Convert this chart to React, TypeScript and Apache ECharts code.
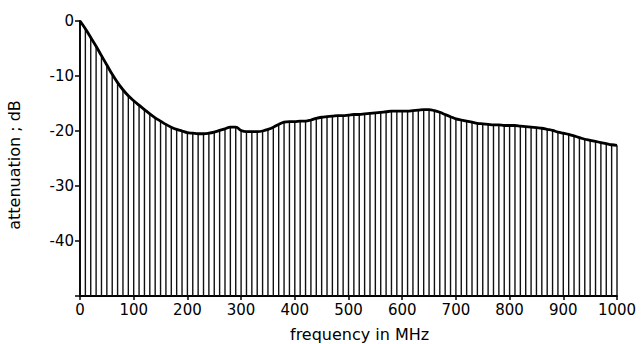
import React, { useEffect, useRef } from "react";
import * as echarts from "echarts";

const freqs: number[] = [
  0, 10, 20, 30, 40, 50, 60, 70, 80, 90,
  100, 110, 120, 130, 140, 150, 160, 170, 180, 190,
  200, 210, 220, 230, 240, 250, 260, 270, 280, 290,
  300, 310, 320, 330, 340, 350, 360, 370, 380, 390,
  400, 410, 420, 430, 440, 450, 460, 470, 480, 490,
  500, 510, 520, 530, 540, 550, 560, 570, 580, 590,
  600, 610, 620, 630, 640, 650, 660, 670, 680, 690,
  700, 710, 720, 730, 740, 750, 760, 770, 780, 790,
  800, 810, 820, 830, 840, 850, 860, 870, 880, 890,
  900, 910, 920, 930, 940, 950, 960, 970, 980, 990, 1000,
];

const attenuation: number[] = [
  0, -1.4, -3.0, -4.6, -6.3, -8.0, -9.7, -11.2, -12.5, -13.6,
  -14.5, -15.3, -16.1, -16.9, -17.6, -18.2, -18.8, -19.3, -19.7, -20.0,
  -20.3, -20.4, -20.5, -20.5, -20.4, -20.2, -19.9, -19.6, -19.3, -19.3,
  -19.9, -20.1, -20.1, -20.1, -20.0, -19.7, -19.3, -18.8, -18.4, -18.3,
  -18.3, -18.2, -18.2, -18.0, -17.7, -17.5, -17.4, -17.3, -17.2, -17.2,
  -17.1, -17.0, -17.0, -16.9, -16.8, -16.7, -16.6, -16.5, -16.4, -16.4,
  -16.4, -16.4, -16.3, -16.2, -16.1, -16.1, -16.3, -16.6, -17.0, -17.4,
  -17.8, -18.0, -18.2, -18.4, -18.6, -18.7, -18.8, -18.9, -18.9, -19.0,
  -19.0, -19.0, -19.1, -19.2, -19.3, -19.4, -19.5, -19.7, -19.9, -20.2,
  -20.4, -20.6, -20.9, -21.2, -21.5, -21.7, -21.9, -22.1, -22.3, -22.5, -22.6,
];

const yMin = -50;
const yMax = 0;
const xMin = 0;
const xMax = 1000;
const FONT = "DejaVu Sans";

export default function App() {
  const ref = useRef<HTMLDivElement>(null);
  useEffect(() => {
    document.body.style.margin = "0";
    if (!ref.current) return;
    const chart = echarts.init(ref.current, null, { renderer: "svg" });
    const curve = freqs.map((f, i) => [f, attenuation[i]]);
    chart.setOption({
      animation: false,
      backgroundColor: "#ffffff",
      grid: { left: 80, right: 26, top: 21, bottom: 48 },
      xAxis: {
        type: "value",
        min: xMin,
        max: xMax,
        interval: 100,
        splitLine: { show: false },
        axisLine: { show: true, onZero: false, lineStyle: { color: "#000", width: 2 } },
        axisTick: { show: true, length: 4, lineStyle: { color: "#000", width: 1.5 } },
        axisLabel: {
          color: "#000",
          fontFamily: FONT,
          fontSize: 15,
          margin: 6,
          formatter: (v: number) => String(v),
        },
      },
      yAxis: {
        type: "value",
        min: yMin,
        max: yMax,
        interval: 10,
        splitLine: { show: false },
        axisLine: { show: true, onZero: false, lineStyle: { color: "#000", width: 2 } },
        axisTick: { show: true, length: 5, lineStyle: { color: "#000", width: 1.5 } },
        axisLabel: {
          color: "#000",
          fontFamily: FONT,
          fontSize: 15,
          margin: 6,
          formatter: (v: number) => (v === yMin ? "" : String(v)),
        },
      },
      graphic: [
        {
          type: "text",
          left: 290,
          top: 326,
          style: {
            text: "frequency in MHz",
            font: `16px "${FONT}"`,
            fill: "#000",
          },
        },
        {
          type: "text",
          x: 14,
          y: 165,
          rotation: Math.PI / 2,
          style: {
            text: "attenuation ; dB",
            font: `16px "${FONT}"`,
            fill: "#000",
            align: "center",
            verticalAlign: "middle",
          },
        },
      ],
      series: [
        {
          type: "custom",
          data: curve,
          silent: true,
          renderItem: (params: any, api: any) => {
            const top = api.coord([api.value(0), api.value(1)]);
            const bottom = api.coord([api.value(0), yMin]);
            return {
              type: "line",
              shape: { x1: top[0], y1: top[1], x2: bottom[0], y2: bottom[1] },
              style: { stroke: "#111", lineWidth: 1.4 },
            };
          },
        },
        {
          type: "line",
          data: curve,
          smooth: 0.4,
          symbol: "none",
          lineStyle: { color: "#000", width: 2.8 },
          z: 5,
        },
      ],
    });
    return () => chart.dispose();
  }, []);
  return (
    <div
      ref={ref}
      style={{ position: "absolute", left: 0, top: 0, width: 643, height: 344 }}
    />
  );
}
